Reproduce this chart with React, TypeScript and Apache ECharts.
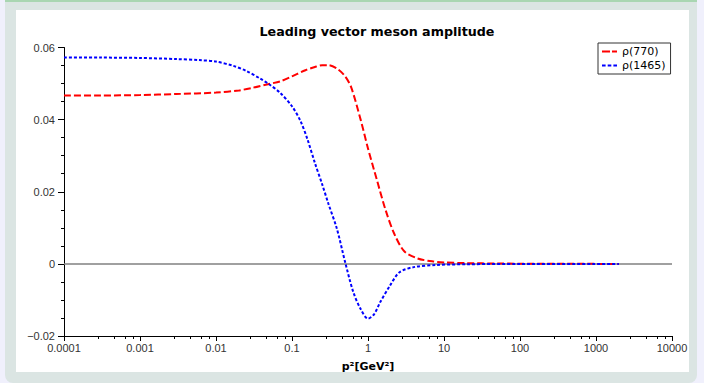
import React, { useEffect, useRef } from "react";
import * as echarts from "echarts";

const TITLE = "Leading vector meson amplitude";
const X_NAME = "p²[GeV²]";
const X_TICK_LABELS = ["0.0001", "0.001", "0.01", "0.1", "1", "10", "100", "1000", "10000"];
const Y_TICK_LABELS: Record<string, string> = { "-0.02": "−0.02", "0": "0", "0.02": "0.02", "0.04": "0.04", "0.06": "0.06" };
const LEGEND_NAMES = ["ρ(770)", "ρ(1465)"];

const RHO770_X = [0.0001, 0.0003, 0.001, 0.003, 0.01, 0.02, 0.03, 0.05, 0.07, 0.1, 0.15, 0.2, 0.25, 0.3, 0.4, 0.5, 0.6, 0.8, 1.0, 1.3, 1.7, 2.2, 3, 4.5, 7, 10, 20, 50, 100, 300, 1000, 2000];
const RHO770_Y = [0.0467, 0.0467, 0.0468, 0.0471, 0.0475, 0.0481, 0.0488, 0.0499, 0.0506, 0.0520, 0.0537, 0.0546, 0.0551, 0.0551, 0.0540, 0.0520, 0.0490, 0.0400, 0.0320, 0.0235, 0.0150, 0.0085, 0.0035, 0.0015, 0.0007, 0.0004, 0.0002, 0.0001, 0.00005, 0.00002, 0, 0];

const RHO1465_X = [0.0001, 0.0003, 0.001, 0.003, 0.006, 0.01, 0.017, 0.025, 0.038, 0.05, 0.07, 0.1, 0.13, 0.16, 0.2, 0.25, 0.3, 0.39, 0.5, 0.64, 0.8, 1.0, 1.2, 1.45, 1.95, 2.6, 4, 8, 20, 100, 2000];
const RHO1465_Y = [0.0572, 0.0572, 0.0571, 0.0568, 0.0565, 0.0561, 0.0549, 0.0535, 0.0514, 0.0498, 0.0474, 0.0437, 0.0395, 0.0345, 0.0280, 0.0220, 0.0168, 0.0097, 0.0005, -0.0078, -0.0125, -0.0152, -0.0140, -0.0106, -0.0060, -0.0023, -0.0009, -0.0003, -0.0001, -0.00003, 0];

const pairs = (xs: number[], ys: number[]) => xs.map((x, i) => [x, ys[i]]);

// legend glyphs: dashed (red) and dotted (blue) line samples
const ICON_DASHED = "path://M0,0h8v2h-8zM10,0h5v2h-5z";
const ICON_DOTTED = "path://M0,0h3.5v2h-3.5zM5.5,0h3.5v2h-3.5zM11,0h3.5v2h-3.5z";

export default function App() {
  const ref = useRef<HTMLDivElement>(null);
  useEffect(() => {
    document.body.style.margin = "0";
    const chart = echarts.init(ref.current!, undefined, { renderer: "svg" });
    const labelFont = "Liberation Sans";
    chart.setOption({
      animation: false,
      backgroundColor: "transparent",
      graphic: [
        {
          type: "text",
          x: 377,
          y: 31,
          style: {
            text: TITLE,
            textAlign: "center",
            textVerticalAlign: "middle",
            font: "bold 12.7px 'DejaVu Sans'",
            fill: "#000",
          },
        },
      ],
      grid: { left: 64, right: 32, top: 47.5, bottom: 47, containLabel: false },
      legend: {
        left: 598,
        top: 43,
        orient: "vertical",
        data: [
          { name: LEGEND_NAMES[0], icon: ICON_DASHED },
          { name: LEGEND_NAMES[1], icon: ICON_DOTTED },
        ],
        borderColor: "#333",
        borderWidth: 1,
        padding: [3, 5, 3, 4],
        itemGap: 3,
        itemWidth: 15,
        itemHeight: 2.5,
        textStyle: { fontFamily: "DejaVu Sans", fontSize: 11, color: "#000", padding: [0, 0, 0, 0] },
      },
      xAxis: {
        type: "log",
        logBase: 10,
        min: 0.0001,
        max: 10000,
        name: X_NAME,
        nameLocation: "middle",
        nameGap: 25,
        nameTextStyle: { fontFamily: "DejaVu Sans", fontWeight: "bold", fontSize: 11, color: "#000" },
        axisLine: { onZero: false, lineStyle: { color: "#000", width: 1 } },
        axisTick: { show: true, length: 5, lineStyle: { color: "#000" } },
        minorTick: { show: true, splitNumber: 5, length: 3, lineStyle: { color: "#000" } },
        splitLine: { show: false },
        axisLabel: {
          fontFamily: labelFont,
          fontSize: 11,
          color: "#333",
          margin: 6,
          formatter: (v: number) => X_TICK_LABELS[Math.round(Math.log10(v)) + 4] ?? "",
        },
      },
      yAxis: {
        type: "value",
        min: -0.02,
        max: 0.06,
        interval: 0.02,
        axisLine: { show: true, lineStyle: { color: "#000", width: 1 } },
        axisTick: { show: true, length: 6, lineStyle: { color: "#000" } },
        minorTick: { show: true, splitNumber: 4, length: 3, lineStyle: { color: "#000" } },
        splitLine: { show: false },
        axisLabel: {
          fontFamily: labelFont,
          fontSize: 11,
          color: "#333",
          margin: 9,
          formatter: (v: number) => Y_TICK_LABELS[String(Math.round(v * 100) / 100)] ?? String(v),
        },
      },
      series: [
        {
          name: LEGEND_NAMES[0],
          type: "line",
          z: 3,
          data: pairs(RHO770_X, RHO770_Y),
          smooth: 0.3,
          symbol: "none",
          lineStyle: { color: "#ff0000", width: 2, type: [7, 3] },
          itemStyle: { color: "#ff0000" },
          markLine: {
            z: 1,
            silent: true,
            symbol: "none",
            label: { show: false },
            lineStyle: { color: "#808080", width: 1.5, type: "solid" },
            data: [{ yAxis: 0 }],
          },
        },
        {
          name: LEGEND_NAMES[1],
          type: "line",
          z: 3,
          data: pairs(RHO1465_X, RHO1465_Y),
          smooth: 0.3,
          symbol: "none",
          lineStyle: { color: "#0000ff", width: 2, type: [3, 2] },
          itemStyle: { color: "#0000ff" },
        },
      ],
    });
    return () => chart.dispose();
  }, []);

  return (
    <div style={{ position: "fixed", left: 0, top: 0, width: 704, height: 383, background: "#f0f0fc", overflow: "hidden" }}>
      <div style={{ position: "absolute", left: 5, top: 0, width: 692, height: 383, background: "#dbe5e3", borderBottomLeftRadius: 8, borderBottomRightRadius: 8 }} />
      <div style={{ position: "absolute", left: 5, top: 0, width: 692, height: 1.5, background: "#a9d6b2" }} />
      <div style={{ position: "absolute", left: 16, top: 10, width: 673, height: 362, background: "#ffffff", overflow: "hidden" }}>
        <div ref={ref} style={{ position: "absolute", left: -16, top: -10, width: 704, height: 383 }} />
      </div>
    </div>
  );
}
